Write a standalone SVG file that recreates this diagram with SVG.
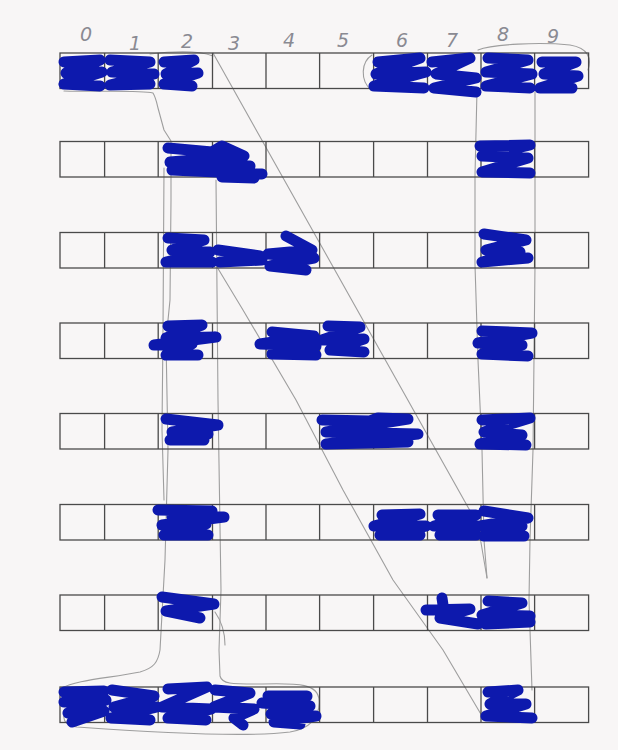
<svg xmlns="http://www.w3.org/2000/svg" xmlns:xlink="http://www.w3.org/1999/xlink" width="618" height="750" viewBox="0 0 618 750">
<style>
.cell{fill:none;stroke:#4a4a4a;stroke-width:1.3}
.ink{fill:none;stroke:#0d19ad;stroke-width:11;stroke-linecap:round;stroke-linejoin:round}
.pen{fill:none;stroke:#9e9e9e;stroke-width:1.1;stroke-linecap:round;stroke-linejoin:round}
.dig{font-family:"DejaVu Sans",sans-serif;font-size:19px;font-style:italic;font-weight:300;fill:#8a8a92;text-anchor:middle}
</style>
<defs>
<g id="grid">
<rect class="cell" x="60" y="0" width="528.6" height="35.5"/>
<path class="cell" d="M104.6,0V35.5M158.2,0V35.5M212.5,0V35.5M266,0V35.5M319.6,0V35.5M373.6,0V35.5M427.5,0V35.5M481,0V35.5M534.6,0V35.5"/>
</g>
</defs>
<rect width="618" height="750" fill="#f8f6f6"/>

<g id="labels">
<text class="dig" x="86" y="41">0</text>
<text class="dig" x="135" y="50">1</text>
<text class="dig" x="187" y="48">2</text>
<text class="dig" x="234" y="50">3</text>
<text class="dig" x="289" y="47">4</text>
<text class="dig" x="343" y="47">5</text>
<text class="dig" x="402" y="47">6</text>
<text class="dig" x="452" y="47">7</text>
<text class="dig" x="503" y="41">8</text>
<text class="dig" x="553" y="43">9</text>
</g>

<g id="connectors">
<path class="pen" d="M150,54 C175,51 200,51 213,56"/>
<path class="pen" d="M372,55 C361,62 360,80 371,90"/>
<path class="pen" d="M478,50 C492,44 540,42 570,45 C588,48 592,58 588,70"/>
<path class="pen" d="M64,91 C100,92 140,90 153,93 C156,98 157,104 158,108 L164,130 L171,141 L171,200 L170,300 L166,340 L168,450 L165,560 L160,650 C158,662 154,668 140,672 C110,678 75,680 62,688"/>
<path class="pen" d="M164,168 L163,330 L162,430 L164,500"/>
<path class="pen" d="M216,180 L218,400 L221,590 L219,650 L220,676 C222,684 230,684 262,684 C300,683 318,684 319,700 C320,716 312,728 290,732 C250,737 160,733 77,727 C68,726 63,722 64,716"/>
<path class="pen" d="M215,612 C222,622 225,632 225,645"/>
<path class="pen" d="M213,53 L478,525 L487,578"/>
<path class="pen" d="M214,262 L243,310 L296,400 L343,490 L393,580 L443,650 L482,716"/>
<path class="pen" d="M477,90 L475,175 L475,265 L478,360 L482,450 L484,540 L487,578"/>
<path class="pen" d="M535,90 L535,265 L533,450 L530,540 L529,600 L532,690"/>
</g>

<g id="row-1">
<use xlink:href="#grid" href="#grid" y="53"/>
<path class="ink" d="M64,62 L100,60 L66,73 L102,72 L64,84 L100,86 M110,60 L150,62 L112,72 L154,74 L110,85 L150,84 M164,62 L194,60 L166,74 L198,73 L164,84 L192,86"/>
<path class="ink" d="M378,62 L420,58 L376,74 L426,72 L374,86 L424,88 M432,62 L470,58 L436,74 L476,78 L434,88 L476,92 M488,58 L528,60 L486,72 L532,74 L486,86 L530,88 M542,62 L576,62 L544,74 L578,76 L540,88 L572,88"/>
</g>
<g id="row-2">
<use xlink:href="#grid" href="#grid" y="141.5"/>
<path class="ink" d="M168,148 L212,152 L222,146 L244,156 L170,162 L250,166 L172,170 L262,174 M222,177 L254,178"/>
<path class="ink" d="M480,146 L530,145 L482,156 L528,158 L482,172 L530,173"/>
</g>
<g id="row-3">
<use xlink:href="#grid" href="#grid" y="232.5"/>
<path class="ink" d="M168,238 L204,240 L172,250 L210,252 L166,262 L212,262 M218,250 L260,256 L220,262 L262,260 M286,236 L312,250 L268,254 L314,258 L270,266 L306,270"/>
<path class="ink" d="M484,234 L526,240 L486,250 L520,252 L482,262 L528,258"/>
</g>
<g id="row-4">
<use xlink:href="#grid" href="#grid" y="323"/>
<path class="ink" d="M168,326 L202,325 L166,338 L216,337 L154,345 L192,344 L166,355 L198,355"/>
<path class="ink" d="M272,332 L314,336 L260,344 L316,346 L272,354 L316,355 M328,326 L360,327 L322,340 L364,339 L330,350 L364,352"/>
<path class="ink" d="M482,331 L532,333 L478,343 L522,345 L482,354 L528,356"/>
</g>
<g id="row-5">
<use xlink:href="#grid" href="#grid" y="413.5"/>
<path class="ink" d="M166,419 L218,425 L172,432 L208,434 L170,440 L204,440"/>
<path class="ink" d="M322,420 L370,421 L378,418 L408,419 L326,432 L418,434 L326,444 L408,442"/>
<path class="ink" d="M482,420 L530,418 L484,432 L522,435 L480,444 L526,445"/>
</g>
<g id="row-6">
<use xlink:href="#grid" href="#grid" y="504.5"/>
<path class="ink" d="M158,510 L212,511 L172,517 L224,517 L162,525 L206,524 L164,535 L208,535"/>
<path class="ink" d="M382,515 L420,514 L374,526 L426,526 L380,535 L420,535 M438,515 L476,515 L434,526 L478,526 L440,535 L476,535 M484,511 L528,518 L480,526 L522,526 L484,536 L524,536"/>
</g>
<g id="row-7">
<use xlink:href="#grid" href="#grid" y="595"/>
<path class="ink" d="M162,597 L214,604 L166,611 L200,618"/>
<path class="ink" d="M442,598 L444,612 M426,610 L470,609 L440,618 L478,624 M488,601 L522,603 L482,615 L530,616 L486,624 L530,622"/>
</g>
<g id="row-8">
<use xlink:href="#grid" href="#grid" y="687"/>
<path class="ink" d="M64,692 L104,691 L64,702 L106,700 L68,713 L104,711 L72,722 M112,690 L154,696 L114,707 L157,707 L111,718 L150,720 M168,689 L207,687 L162,707 L211,709 L168,718 L206,720 M215,690 L250,693 L214,707 L254,709 L234,718 L243,725 M268,696 L307,696 L262,703 L310,706 L271,714 L316,716 L274,722 L300,724"/>
<path class="ink" d="M488,692 L518,690 L490,704 L526,704 L486,716 L532,718"/>
</g>
</svg>
